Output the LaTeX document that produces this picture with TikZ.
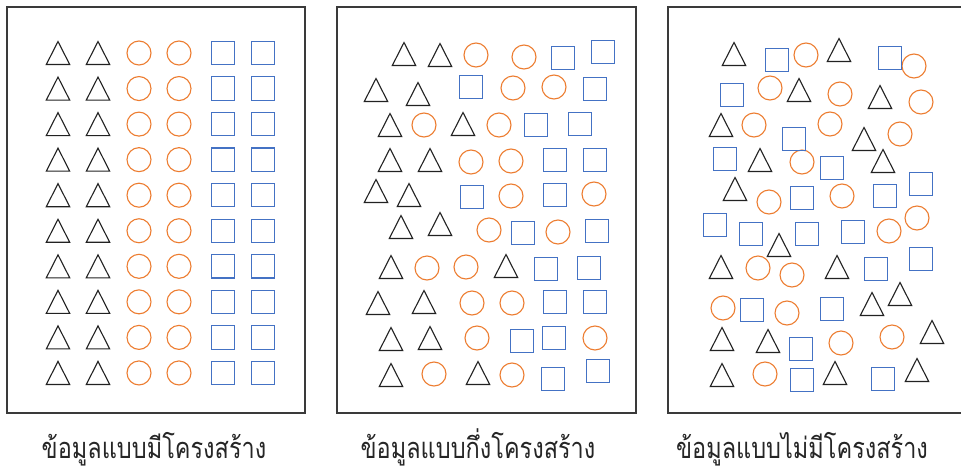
\documentclass[tikz,border=0pt]{standalone}
\usepackage{fontspec}
\newfontfamily\thaifont[Script=Thai]{Loma}
\definecolor{shorange}{HTML}{ED7D31}
\definecolor{shblue}{HTML}{4472C4}
\definecolor{frameline}{HTML}{3A3A3A}
\definecolor{trline}{HTML}{222222}
\newcommand{\capnarrow}[1]{\scalebox{0.81}[1]{#1}}
\begin{document}
\begin{tikzpicture}[x=1pt,y=-1pt,
  panel/.style={draw=frameline, line width=1.4pt},
  shapeline/.style={line width=1.1pt},
  tri/.pic={\draw[shapeline, trline, line join=miter] (-11.7,11.5) -- (11.7,11.5) -- (0,-11.5) -- cycle;},
  cir/.pic={\draw[shapeline, shorange] (0,0) circle (12pt);},
  sqb/.pic={\draw[shapeline, shblue] (-11.7,-11.7) rectangle (11.7,11.7);},
  caption/.style={font=\thaifont\fontsize{29}{35}\selectfont, text=black!85, inner sep=0pt, anchor=base}]
\useasboundingbox (0,0) rectangle (961,469);
\clip (0,0) rectangle (961,469);
\fill[white] (0,0) rectangle (961,469);
% frames
\draw[panel] (7,7) rectangle (305,413);
\draw[panel] (337,7) rectangle (636,413);
\draw[panel] (668,7) rectangle (975,413);
% panel 1: structured
\foreach \r in {0,...,9}{
  \pgfmathsetmacro{\yy}{53+35.55*\r}
  \pic at (58,\yy) {tri};
  \pic at (98,\yy) {tri};
  \pic at (139,\yy) {cir};
  \pic at (179,\yy) {cir};
  \pic at (223,\yy) {sqb};
  \pic at (263,\yy) {sqb};
}
% panel 2: semi-structured
\foreach \x/\y in {404/54,440/55,376/90,418/94,390/125,463/124,390/160,430/160,376/191,409/195,401/227,440/224,391/267,506/266,378/303,424/302,391/339,430/338,391/375,478/373}
  \pic at (\x,\y) {tri};
\foreach \x/\y in {476/55,524/57,513/88,554/87,424/125,499/125,471/162,511/161,511/196,594/194,489/230,558/232,427/268,466/267,472/303,512/303,477/338,595/338,434/374,512/375}
  \pic at (\x,\y) {cir};
\foreach \x/\y in {563/58,603/52,471/87,595/89,536/125,580/124,555/160,595/160,472/197,555/195,523/233,597/231,546/269,589/268,555/302,595/302,522/341,554/338,553/379,598/371}
  \pic at (\x,\y) {sqb};
% panel 3: unstructured
\foreach \x/\y in {734/54,839/50,799/90,880/97,721/125,864/139,760/160,883/161,735/189,779/245,721/267,837/267,872/304,900/294,722/339,768/341,932/332,722/375,835/373,917/370}
  \pic at (\x,\y) {tri};
\foreach \x/\y in {806/55,914/66,770/88,840/94,921/102,754/125,830/124,900/134,802/162,769/202,842/196,889/231,917/218,758/268,792/275,723/308,787/313,841/343,892/337,765/374}
  \pic at (\x,\y) {cir};
\foreach \x/\y in {777/60,890/58,732/95,794/139,725/159,832/168,921/184,802/198,885/196,715/225,751/234,807/234,853/232,876/269,921/259,752/310,832/309,801/349,802/380,883/379}
  \pic at (\x,\y) {sqb};
% captions
\node[caption] (cap1) at (154,458) {\capnarrow{ข้อมูลแบบมีโครงสร้าง}};
\node[caption] (cap2) at (478,458) {\capnarrow{ข้อมูลแบบกึ่งโครงสร้าง}};
\node[caption] (cap3) at (802,458) {\capnarrow{ข้อมูลแบบไม่มีโครงสร้าง}};
\end{tikzpicture}
\end{document}
